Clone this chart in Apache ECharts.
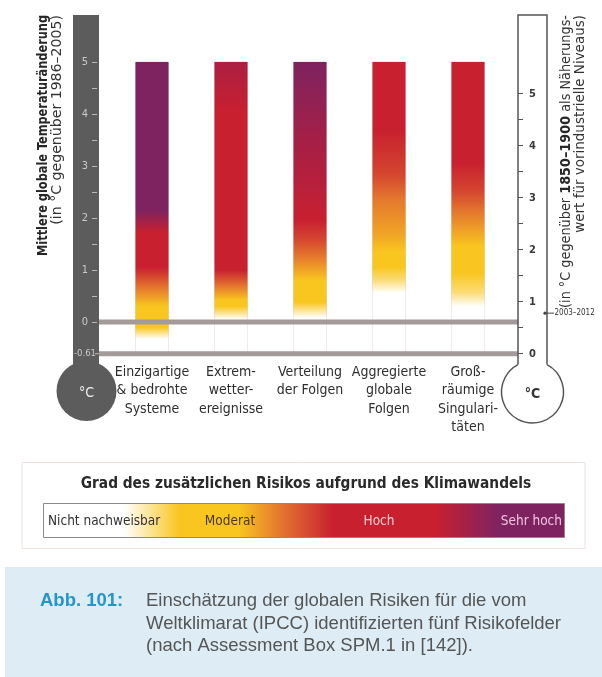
<!DOCTYPE html>
<html>
<head>
<meta charset="utf-8">
<script src="https://cdn.jsdelivr.net/npm/echarts@6/dist/echarts.min.js"></script>
<style>
  html, body { margin: 0; padding: 0; background: #ffffff; }
  #main { width: 602px; height: 677px; }
</style>
</head>
<body>
<div id="main"></div>
<script>
// Five IPCC reasons for concern
const categories = [
  'Einzigartige\n& bedrohte\nSysteme',
  'Extrem-\nwetter-\nereignisse',
  'Verteilung\nder Folgen',
  'Aggregierte\nglobale\nFolgen',
  'Groß-\nräumige\nSingulari-\ntäten'
];

// Every column spans this temperature range (°C relative to 1986–2005)
const columnTop = 5;
const columnBase = -0.61;

// Risk level along each column: [temperature °C, level]
// level 0 = nicht nachweisbar, 1 = moderat, 2 = hoch, 3 = sehr hoch
const riskUnique       = [[-0.33, 0], [-0.1, 1], [0.3, 1], [0.65, 1.5], [1.05, 2], [1.72, 2], [2.15, 3], [5, 3]];
const riskExtreme      = [[0.05, 0], [0.3, 1], [0.42, 1], [0.68, 1.5], [1.0, 2], [4.0, 2], [5, 2.4]];
const riskDistribution = [[0.08, 0], [0.38, 1], [0.8, 1], [1.25, 1.5], [1.6, 1.8], [1.96, 2], [2.5, 2.2], [3.5, 2.5], [5, 3]];
const riskAggregate    = [[0.56, 0], [0.8, 0.6], [1.06, 1], [1.35, 1], [1.65, 1.2], [2.35, 1.5], [2.86, 1.8], [3.7, 2], [5, 2]];
const riskSingular     = [[0.3, 0], [0.56, 0.6], [0.94, 1], [1.45, 1], [1.71, 1.2], [2.1, 1.5], [2.54, 1.8], [3.05, 2], [5, 2]];
const riskProfiles = [riskUnique, riskExtreme, riskDistribution, riskAggregate, riskSingular];

// Scale of the left thermometer (°C relative to 1986–2005)
const leftLabels = [-0.61, 0, 1, 2, 3, 4, 5];
const leftTicks = [0, 0.5, 1, 1.5, 2, 2.5, 3, 3.5, 4, 4.5, 5];
// Scale of the right thermometer (°C relative to 1850–1900)
const rightLabels = [0, 1, 2, 3, 4, 5];
const rightTicks = [0, 0.5, 1, 1.5, 2, 2.5, 3, 3.5, 4, 4.5, 5];
// Difference of the two reference periods and the observed 2003–2012 mean
const preindustrialOffset = 0.61;
const observed2003to2012 = 0.78;

// Colour of each risk level (legend palette)
const riskPalette = [
  [0, [255, 255, 255]],
  [1, [249, 198, 31]],
  [1.5, [229, 121, 46]],
  [2, [200, 32, 47]],
  [2.5, [165, 31, 71]],
  [3, [126, 35, 96]]
];

function levelColor(l) {
  for (let i = 1; i < riskPalette.length; i++) {
    const [l1, c1] = riskPalette[i];
    const [l0, c0] = riskPalette[i - 1];
    if (l <= l1) {
      const t = (l - l0) / (l1 - l0);
      const c = c0.map((v, k) => Math.round(v + (c1[k] - v) * t));
      return 'rgb(' + c.join(',') + ')';
    }
  }
  const c = riskPalette[riskPalette.length - 1][1];
  return 'rgb(' + c.join(',') + ')';
}

function columnGradient(profile) {
  const span = columnTop - columnBase;
  const stops = profile.map(([t, l]) => ({
    offset: Math.min(1, Math.max(0, (columnTop - t) / span)),
    color: levelColor(l)
  })).sort((a, b) => a.offset - b.offset);
  return { type: 'linear', x: 0, y: 0, x2: 0, y2: 1, colorStops: stops };
}

const NARROW = '"Liberation Sans Narrow", "DejaVu Sans Condensed", "Noto Sans", sans-serif';
const SANS = '"Liberation Sans", Arial, sans-serif';

const chart = echarts.init(document.getElementById('main'), null, { renderer: 'canvas' });

const leftMax = 5.904;
const option = {
  backgroundColor: '#ffffff',
  animation: false,
  grid: { left: 112.5, right: 94.5, top: 15, bottom: 323.3, containLabel: false },
  xAxis: {
    type: 'category',
    data: categories,
    axisLine: { show: false },
    axisTick: { show: false },
    axisLabel: {
      margin: 9,
      color: '#2e2e2e',
      fontFamily: NARROW,
      fontSize: 14,
      lineHeight: 18.5,
      interval: 0
    }
  },
  yAxis: [
    {
      type: 'value',
      position: 'left',
      offset: 15.5,
      min: columnBase,
      max: leftMax,
      z: 6,
      splitLine: { show: false },
      axisLine: { show: false },
      axisTick: { show: true, length: 5, customValues: leftTicks, lineStyle: { color: '#b8b8b8', width: 1 } },
      axisLabel: {
        customValues: leftLabels,
        formatter: v => (v < 0 ? '{s|' + v.toFixed(2) + '}' : String(v)),
        color: '#c9c9c9',
        fontFamily: NARROW,
        fontSize: 11,
        align: 'center',
        margin: 12,
        rich: { s: { fontSize: 9.5, color: '#c9c9c9', fontFamily: NARROW } }
      }
    },
    {
      type: 'value',
      position: 'right',
      offset: 10.5,
      min: 0,
      max: leftMax + preindustrialOffset,
      z: 6,
      splitLine: { show: false },
      axisLine: { show: false },
      axisTick: { show: true, length: 5, customValues: rightTicks, lineStyle: { color: '#555555', width: 1 } },
      axisLabel: {
        customValues: rightLabels,
        color: '#3a3a3a',
        fontFamily: NARROW,
        fontWeight: 'bold',
        fontSize: 11,
        align: 'center',
        margin: 14.5
      }
    }
  ],
  series: [
    {
      type: 'custom',
      yAxisIndex: 0,
      z: 2,
      data: categories.map((c, i) => [i, columnBase, columnTop]),
      encode: { x: 0, y: [1, 2] },
      renderItem: function (params, api) {
        const i = api.value(0);
        const pTop = api.coord([i, api.value(2)]);
        const pBase = api.coord([i, api.value(1)]);
        const w = api.size([1, 0])[0] * 0.418;
        const rect = { x: pTop[0] - w / 2, y: pTop[1], width: w, height: pBase[1] - pTop[1] };
        return {
          type: 'group',
          children: [
            { type: 'rect', shape: rect, style: { fill: 'none', stroke: '#ddd6d4', lineWidth: 1 } },
            { type: 'rect', shape: rect, style: { fill: columnGradient(riskProfiles[params.dataIndex]) } }
          ]
        };
      }
    }
  ]
};
chart.setOption(option);

// Decorations placed on the axes' own pixel scale
const y = v => chart.convertToPixel({ yAxisIndex: 0 }, v);
const yR = v => chart.convertToPixel({ yAxisIndex: 1 }, v);
const yZero = y(0);
const yBase = y(columnBase);
const topY = y(leftMax);
const yObs = yR(observed2003to2012);

// thermometer geometry
const lTube = { l: 73, r: 99, cx: 86.5, cy: 391, rad: 30 };
const rTube = { l: 518, r: 547, cx: 532.5, cy: 392, rad: 31 };
function joinY(t) {
  const half = (t.r - t.l) / 2;
  return t.cy - Math.sqrt(t.rad * t.rad - half * half);
}
const rJoin = joinY(rTube);
const angR = Math.atan2(rJoin - rTube.cy, rTube.r - rTube.cx);
const angL = Math.atan2(rJoin - rTube.cy, rTube.l - rTube.cx);

const legendStops = [
  [0, 0], [0.155, 0], [0.262, 1], [0.375, 1], [0.452, 1.5], [0.556, 2], [0.75, 2], [0.876, 3], [1, 3]
];

const graphic = [
  // left thermometer
  { type: 'rect', z: 0, shape: { x: lTube.l, y: topY, width: lTube.r - lTube.l, height: lTube.cy - topY }, style: { fill: '#5c5c5c' } },
  { type: 'circle', z: 0, shape: { cx: lTube.cx, cy: lTube.cy, r: lTube.rad }, style: { fill: '#5c5c5c' } },
  { type: 'line', z: 6, shape: { x1: 95, y1: yBase, x2: 99, y2: yBase }, style: { stroke: '#b8b8b8', lineWidth: 1 } },
  { type: 'text', z: 7, x: lTube.cx, y: lTube.cy + 2, style: { text: '°C', fill: '#eeeeee', fontFamily: NARROW, fontSize: 14, align: 'center', verticalAlign: 'middle' } },
  // right thermometer
  { type: 'polyline', z: 5, shape: { points: [[rTube.l, rJoin], [rTube.l, topY], [rTube.r, topY], [rTube.r, rJoin]] }, style: { fill: 'none', stroke: '#555555', lineWidth: 1.5 } },
  { type: 'arc', z: 5, shape: { cx: rTube.cx, cy: rTube.cy, r: rTube.rad, startAngle: angR, endAngle: angL + Math.PI * 2, clockwise: true }, style: { fill: 'none', stroke: '#555555', lineWidth: 1.5 } },
  { type: 'text', z: 7, x: rTube.cx, y: rTube.cy + 2, style: { text: '°C', fill: '#333333', fontFamily: NARROW, fontWeight: 'bold', fontSize: 14, align: 'center', verticalAlign: 'middle' } },
  // reference lines at 0 °C and at the pre-industrial level
  { type: 'line', z: 4, shape: { x1: lTube.r, y1: yZero, x2: rTube.l, y2: yZero }, style: { stroke: '#a39b99', lineWidth: 5 } },
  { type: 'line', z: 4, shape: { x1: lTube.r, y1: yBase, x2: rTube.l, y2: yBase }, style: { stroke: '#a39b99', lineWidth: 5 } },
  // 2003–2012 marker
  { type: 'line', z: 5, shape: { x1: rTube.r - 3, y1: yObs, x2: rTube.r + 7, y2: yObs }, style: { stroke: '#444444', lineWidth: 1 } },
  { type: 'circle', z: 5, shape: { cx: rTube.r - 2, cy: yObs, r: 1.6 }, style: { fill: '#444444' } },
  { type: 'text', z: 5, x: rTube.r + 7.5, y: yObs, style: { text: '2003–2012', fill: '#333333', fontFamily: NARROW, fontSize: 8, align: 'left', verticalAlign: 'middle' } },
  // axis titles
  { type: 'text', z: 5, x: 43, y: topY, rotation: Math.PI / 2, scaleX: 0.9, style: { text: 'Mittlere globale Temperaturänderung', fill: '#262626', fontFamily: NARROW, fontWeight: 'bold', fontSize: 14, align: 'right', verticalAlign: 'middle' } },
  { type: 'text', z: 5, x: 57, y: topY, rotation: Math.PI / 2, scaleX: 1.12, style: { text: '(in °C gegenüber 1986–2005)', fill: '#333333', fontFamily: NARROW, fontSize: 14, align: 'right', verticalAlign: 'middle' } },
  { type: 'text', z: 5, x: 566, y: topY, rotation: Math.PI / 2, scaleX: 1.02, style: {
      text: '{n|(in °C gegenüber }{b|1850–1900}{n| als Näherungs-}',
      align: 'right', verticalAlign: 'middle',
      rich: {
        n: { fill: '#333333', fontFamily: NARROW, fontSize: 14 },
        b: { fill: '#262626', fontFamily: NARROW, fontSize: 14, fontWeight: 'bold' }
      } } },
  { type: 'text', z: 5, x: 580, y: topY, rotation: Math.PI / 2, scaleX: 1.07, style: { text: 'wert für vorindustrielle Niveaus)', fill: '#333333', fontFamily: NARROW, fontSize: 14, align: 'right', verticalAlign: 'middle' } },

  // legend box
  { type: 'rect', z: 1, shape: { x: 22, y: 462.5, width: 563, height: 86 }, style: { fill: '#ffffff', stroke: '#ece2de', lineWidth: 1 } },
  { type: 'text', z: 5, x: 306, y: 484, style: { text: 'Grad des zusätzlichen Risikos aufgrund des Klimawandels', fill: '#2a2a2a', fontFamily: NARROW, fontWeight: 'bold', fontSize: 15.3, align: 'center', verticalAlign: 'middle' } },
  { type: 'rect', z: 2, shape: { x: 43.5, y: 503.5, width: 521, height: 34 }, style: {
      fill: { type: 'linear', x: 0, y: 0, x2: 1, y2: 0, colorStops: legendStops.map(([o, l]) => ({ offset: o, color: levelColor(l) })) },
      stroke: '#8a8a8a', lineWidth: 1 } },
  { type: 'text', z: 5, x: 48, y: 521, style: { text: 'Nicht nachweisbar', fill: '#333333', fontFamily: NARROW, fontSize: 13.5, align: 'left', verticalAlign: 'middle' } },
  { type: 'text', z: 5, x: 230, y: 521, style: { text: 'Moderat', fill: '#4a3b12', fontFamily: NARROW, fontSize: 13.5, align: 'center', verticalAlign: 'middle' } },
  { type: 'text', z: 5, x: 379, y: 521, style: { text: 'Hoch', fill: '#f6cbd2', fontFamily: NARROW, fontSize: 13.5, align: 'center', verticalAlign: 'middle' } },
  { type: 'text', z: 5, x: 562, y: 521, style: { text: 'Sehr hoch', fill: '#f0c4e0', fontFamily: NARROW, fontSize: 13.5, align: 'right', verticalAlign: 'middle' } },

  // caption
  { type: 'rect', z: 1, shape: { x: 5, y: 567, width: 597, height: 110 }, style: { fill: '#deedf5' } },
  { type: 'text', z: 5, x: 40, y: 601, style: { text: 'Abb. 101:', fill: '#2596c8', fontFamily: SANS, fontWeight: 'bold', fontSize: 18.5, align: 'left', verticalAlign: 'middle' } },
  { type: 'text', z: 5, x: 146, y: 601, style: { text: 'Einschätzung der globalen Risiken für die vom', fill: '#555555', fontFamily: SANS, fontSize: 18.5, align: 'left', verticalAlign: 'middle' } },
  { type: 'text', z: 5, x: 146, y: 623.5, style: { text: 'Weltklimarat (IPCC) identifizierten fünf Risikofelder', fill: '#555555', fontFamily: SANS, fontSize: 18.5, align: 'left', verticalAlign: 'middle' } },
  { type: 'text', z: 5, x: 146, y: 646, style: { text: '(nach Assessment Box SPM.1 in [142]).', fill: '#555555', fontFamily: SANS, fontSize: 18.5, align: 'left', verticalAlign: 'middle' } }
];
chart.setOption({ graphic: graphic });
</script>
</body>
</html>
